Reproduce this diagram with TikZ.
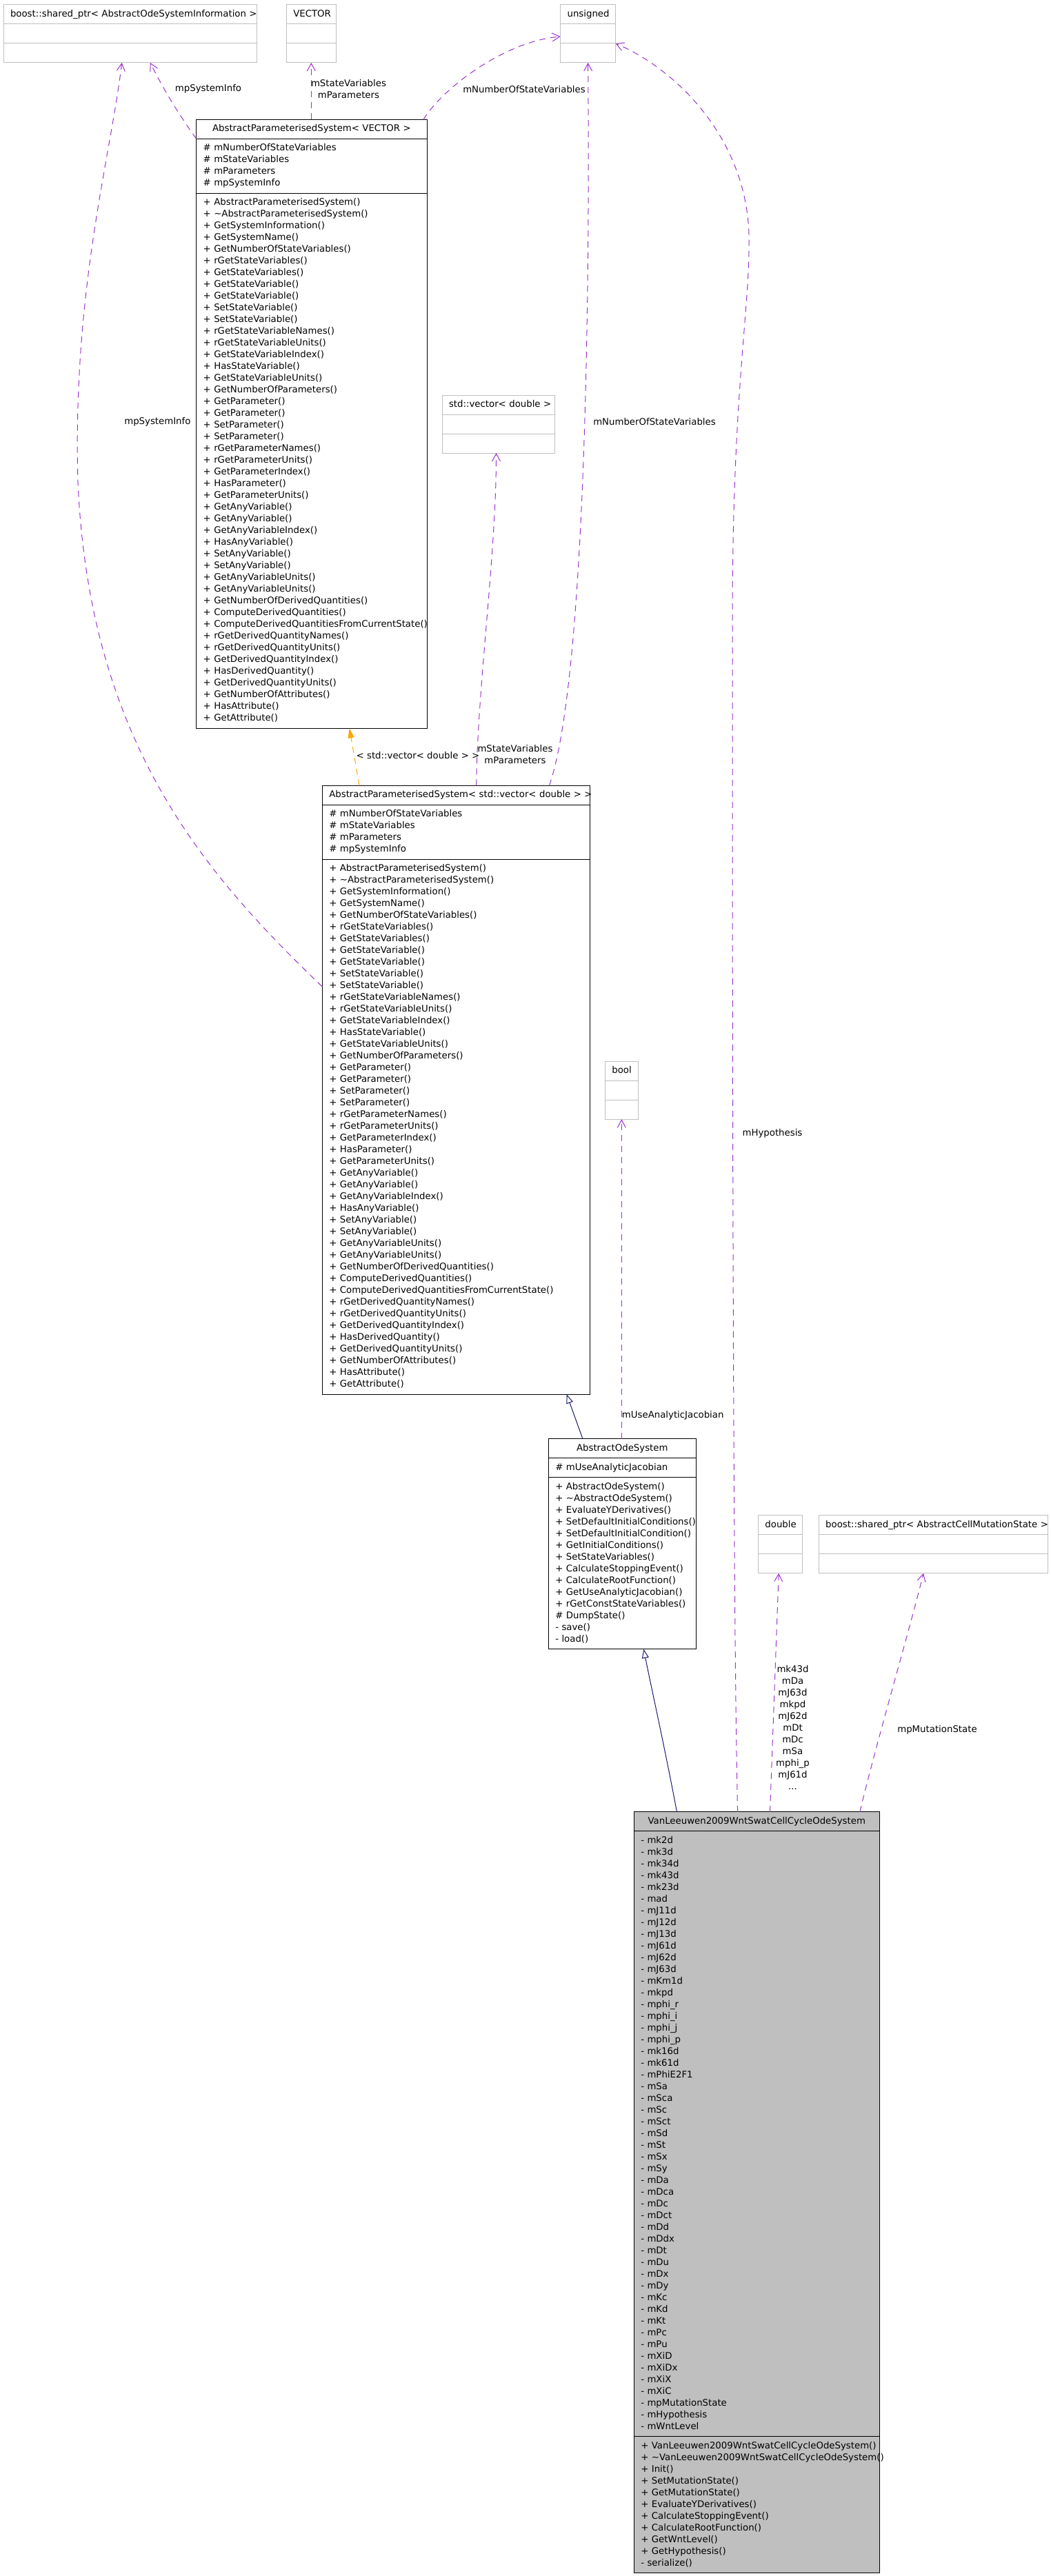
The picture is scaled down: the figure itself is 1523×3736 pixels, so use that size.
\documentclass[tikz,border=0pt]{standalone}
\usepackage{fontspec}
\setmainfont{DejaVu Sans}
\usepackage{tikz}
\usetikzlibrary{arrows.meta,positioning,calc}
\definecolor{depcol}{HTML}{9A32CD}
\definecolor{tplcol}{HTML}{FFA500}
\definecolor{inhcol}{HTML}{191970}
\definecolor{extgrey}{HTML}{BFBFBF}
\hyphenpenalty=10000
\exhyphenpenalty=10000
\tikzset{
    cls font/.style={font=\fontsize{13.3}{17}\selectfont},
    cls part/.style={
        draw=black,
        line width=1pt,
        outer sep=0pt,
        inner xsep=10pt,
        inner ysep=5.5pt,
        align=left,
        cls font,
        execute at begin node=\strut,
        execute at end node=\strut
    },
    cls title/.style={cls part, align=center},
    ext part/.style={cls part, draw=extgrey},
    ext title/.style={cls title, draw=extgrey},
    cls main/.style={fill=extgrey},
    dep label/.style={cls font, align=center, inner sep=0pt,
        execute at begin node=\strut, execute at end node=\strut},
    dep arrow/.style={draw=depcol, line width=1pt, dash pattern=on 9pt off 7pt,
        -{Straight Barb[length=11pt,width=12pt]}},
    tpl arrow/.style={draw=tplcol, line width=1pt, dash pattern=on 9pt off 7pt,
        -{Triangle[length=14pt,width=9pt,fill=tplcol]}},
    inh arrow/.style={draw=inhcol, line width=1pt,
        -{Triangle[open,length=13pt,width=10pt]}}
}
\newcommand{\apsops}{+~AbstractParameterisedSystem()\\+~\textasciitilde AbstractParameterisedSystem()\\+~GetSystemInformation()\\+~GetSystemName()\\+~GetNumberOfStateVariables()\\+~rGetStateVariables()\\+~GetStateVariables()\\+~GetStateVariable()\\+~GetStateVariable()\\+~SetStateVariable()\\+~SetStateVariable()\\+~rGetStateVariableNames()\\+~rGetStateVariableUnits()\\+~GetStateVariableIndex()\\+~HasStateVariable()\\+~GetStateVariableUnits()\\+~GetNumberOfParameters()\\+~GetParameter()\\+~GetParameter()\\+~SetParameter()\\+~SetParameter()\\+~rGetParameterNames()\\+~rGetParameterUnits()\\+~GetParameterIndex()\\+~HasParameter()\\+~GetParameterUnits()\\+~GetAnyVariable()\\+~GetAnyVariable()\\+~GetAnyVariableIndex()\\+~HasAnyVariable()\\+~SetAnyVariable()\\+~SetAnyVariable()\\+~GetAnyVariableUnits()\\+~GetAnyVariableUnits()\\+~GetNumberOfDerivedQuantities()\\+~ComputeDerivedQuantities()\\+~ComputeDerivedQuantitiesFromCurrentState()\\+~rGetDerivedQuantityNames()\\+~rGetDerivedQuantityUnits()\\+~GetDerivedQuantityIndex()\\+~HasDerivedQuantity()\\+~GetDerivedQuantityUnits()\\+~GetNumberOfAttributes()\\+~HasAttribute()\\+~GetAttribute()}

\begin{document}
\begin{tikzpicture}[x=1pt, y=-1pt]
\useasboundingbox (0,0) rectangle (1523,3736);

% used types along the top
\node[ext title, text width=347pt, anchor=north west] (bsi) at (5,7) {boost::shared\_ptr<~AbstractOdeSystemInformation~>};
\node[ext part, text width=347pt, below=0pt of bsi] (bsi-a) {};
\node[ext part, text width=347pt, below=0pt of bsi-a] (bsi-m) {};

\node[ext title, text width=52pt, anchor=north west] (vec) at (415.3,7) {VECTOR};
\node[ext part, text width=52pt, below=0pt of vec] (vec-a) {};
\node[ext part, text width=52pt, below=0pt of vec-a] (vec-m) {};

\node[ext title, text width=60pt, anchor=north west] (uns) at (812.6,7) {unsigned};
\node[ext part, text width=60pt, below=0pt of uns] (uns-a) {};
\node[ext part, text width=60pt, below=0pt of uns-a] (uns-m) {};

% template base
\node[cls title, text width=314.3pt, anchor=north west] (apsv) at (284.7,173.3) {AbstractParameterisedSystem<~VECTOR~>};
\node[cls part, text width=314.3pt, below=0pt of apsv] (apsv-a) {\#~mNumberOfStateVariables\\\#~mStateVariables\\\#~mParameters\\\#~mpSystemInfo};
\node[cls part, text width=314.3pt, below=0pt of apsv-a] (apsv-m) {\apsops};

\node[ext title, text width=143.5pt, anchor=north west] (svd) at (641,573) {std::vector<~double~>};
\node[ext part, text width=143.5pt, below=0pt of svd] (svd-a) {};
\node[ext part, text width=143.5pt, below=0pt of svd-a] (svd-m) {};

% instantiated base
\node[cls title, text width=368pt, anchor=north west] (apsd) at (467.3,1139.3) {AbstractParameterisedSystem<~std::vector<~double~>~>};
\node[cls part, text width=368pt, below=0pt of apsd] (apsd-a) {\#~mNumberOfStateVariables\\\#~mStateVariables\\\#~mParameters\\\#~mpSystemInfo};
\node[cls part, text width=368pt, below=0pt of apsd-a] (apsd-m) {\apsops};

\node[ext title, text width=28pt, anchor=north west] (bool) at (877.3,1539.3) {bool};
\node[ext part, text width=28pt, below=0pt of bool] (bool-a) {};
\node[ext part, text width=28pt, below=0pt of bool-a] (bool-m) {};

% ode system
\node[cls title, text width=194pt, anchor=north west] (aos) at (795.3,2086.8) {AbstractOdeSystem};
\node[cls part, text width=194pt, below=0pt of aos] (aos-a) {\#~mUseAnalyticJacobian};
\node[cls part, text width=194pt, below=0pt of aos-a] (aos-m) {+~AbstractOdeSystem()\\+~\textasciitilde AbstractOdeSystem()\\+~EvaluateYDerivatives()\\+~SetDefaultInitialConditions()\\+~SetDefaultInitialCondition()\\+~GetInitialConditions()\\+~SetStateVariables()\\+~CalculateStoppingEvent()\\+~CalculateRootFunction()\\+~GetUseAnalyticJacobian()\\+~rGetConstStateVariables()\\\#~DumpState()\\-~save()\\-~load()};

\node[ext title, text width=44pt, anchor=north west] (dbl) at (1099.4,2197.7) {double};
\node[ext part, text width=44pt, below=0pt of dbl] (dbl-a) {};
\node[ext part, text width=44pt, below=0pt of dbl-a] (dbl-m) {};

\node[ext title, text width=312pt, anchor=north west] (bcms) at (1187.2,2197.7) {boost::shared\_ptr<~AbstractCellMutationState~>};
\node[ext part, text width=312pt, below=0pt of bcms] (bcms-a) {};
\node[ext part, text width=312pt, below=0pt of bcms-a] (bcms-m) {};

% the class itself
\node[cls title, cls main, text width=336pt, anchor=north west] (vl) at (919.3,2627.9) {VanLeeuwen2009WntSwatCellCycleOdeSystem};
\node[cls part, cls main, text width=336pt, below=0pt of vl] (vl-a) {-~mk2d\\-~mk3d\\-~mk34d\\-~mk43d\\-~mk23d\\-~mad\\-~mJ11d\\-~mJ12d\\-~mJ13d\\-~mJ61d\\-~mJ62d\\-~mJ63d\\-~mKm1d\\-~mkpd\\-~mphi\_r\\-~mphi\_i\\-~mphi\_j\\-~mphi\_p\\-~mk16d\\-~mk61d\\-~mPhiE2F1\\-~mSa\\-~mSca\\-~mSc\\-~mSct\\-~mSd\\-~mSt\\-~mSx\\-~mSy\\-~mDa\\-~mDca\\-~mDc\\-~mDct\\-~mDd\\-~mDdx\\-~mDt\\-~mDu\\-~mDx\\-~mDy\\-~mKc\\-~mKd\\-~mKt\\-~mPc\\-~mPu\\-~mXiD\\-~mXiDx\\-~mXiX\\-~mXiC\\-~mpMutationState\\-~mHypothesis\\-~mWntLevel};
\node[cls part, cls main, text width=336pt, below=0pt of vl-a] (vl-m) {+~VanLeeuwen2009WntSwatCellCycleOdeSystem()\\+~\textasciitilde VanLeeuwen2009WntSwatCellCycleOdeSystem()\\+~Init()\\+~SetMutationState()\\+~GetMutationState()\\+~EvaluateYDerivatives()\\+~CalculateStoppingEvent()\\+~CalculateRootFunction()\\+~GetWntLevel()\\+~GetHypothesis()\\-~serialize()};

% inheritance
\draw[inh arrow] (vl.north -| 981.5,0) .. controls (965,2540) and (945,2450) .. (aos-m.south -| 933.3,0);
\draw[inh arrow] (aos.north -| 845,0) -- (apsd-m.south -| 821.7,0);
\draw[tpl arrow] (apsd.north -| 521,0) -- (apsv-m.south -| 506.7,0);
\node[dep label] (l-tpl) at (606,1097) {<~std::vector<~double~>~>};

% usage
\draw[dep arrow] (apsv-a.north west) .. controls (255,160) and (235,125) .. (bsi-m.south -| 217.7,0);
\node[dep label] (l-sys1) at (302,129) {mpSystemInfo};
\draw[dep arrow] (apsv.north -| vec-m.south) -- (vec-m.south);
\node[dep label] (l-vec) at (505.5,131.5) {mStateVariables\\mParameters};
\draw[dep arrow] (apsv.north -| 614,0) .. controls (640,130) and (730,60) .. (uns-a.west |- 0,53);
\node[dep label] (l-num1) at (760,131) {mNumberOfStateVariables};

\draw[dep arrow] (apsd-m.west |- 0,1431) .. controls (300,1270) and (130,1080) .. (113,700) .. controls (105,420) and (160,230) .. (bsi-m.south -| 176.7,0);
\node[dep label] (l-sys2) at (228.4,612) {mpSystemInfo};
\draw[dep arrow] (apsd.north -| 690.7,0) .. controls (692,1000) and (720,800) .. (svd-m.south -| 719.5,0);
\node[dep label] (l-svd) at (747,1096) {mStateVariables\\mParameters};
\draw[dep arrow] (apsd.north -| 796.5,0) .. controls (845,1000) and (856,500) .. (uns-m.south);
\node[dep label] (l-num2) at (949,613.4) {mNumberOfStateVariables};

\draw[dep arrow] (aos.north -| bool-m.south) -- (bool-m.south);
\node[dep label] (l-jac) at (975.7,2053) {mUseAnalyticJacobian};

\draw[dep arrow] (vl.north -| 1069.6,0) .. controls (1062,2300) and (1062,1300) .. (1062,900) .. controls (1062,560) and (1088,450) .. (1086,340) .. controls (1082,200) and (980,100) .. (uns-m.north east);
\node[dep label] (l-hyp) at (1120,1644) {mHypothesis};
\draw[dep arrow] (vl.north -| 1116.5,0) -- (dbl-m.south -| 1129.2,0);
\node[dep label] (l-dbl) at (1149.5,2508.3) {mk43d\\mDa\\mJ63d\\mkpd\\mJ62d\\mDt\\mDc\\mSa\\mphi\_p\\mJ61d\\...};
\draw[dep arrow] (vl.north -| 1246.8,0) .. controls (1270,2530) and (1320,2360) .. (bcms-m.south -| 1339,0);
\node[dep label] (l-mut) at (1359,2508.7) {mpMutationState};
\end{tikzpicture}
\end{document}
